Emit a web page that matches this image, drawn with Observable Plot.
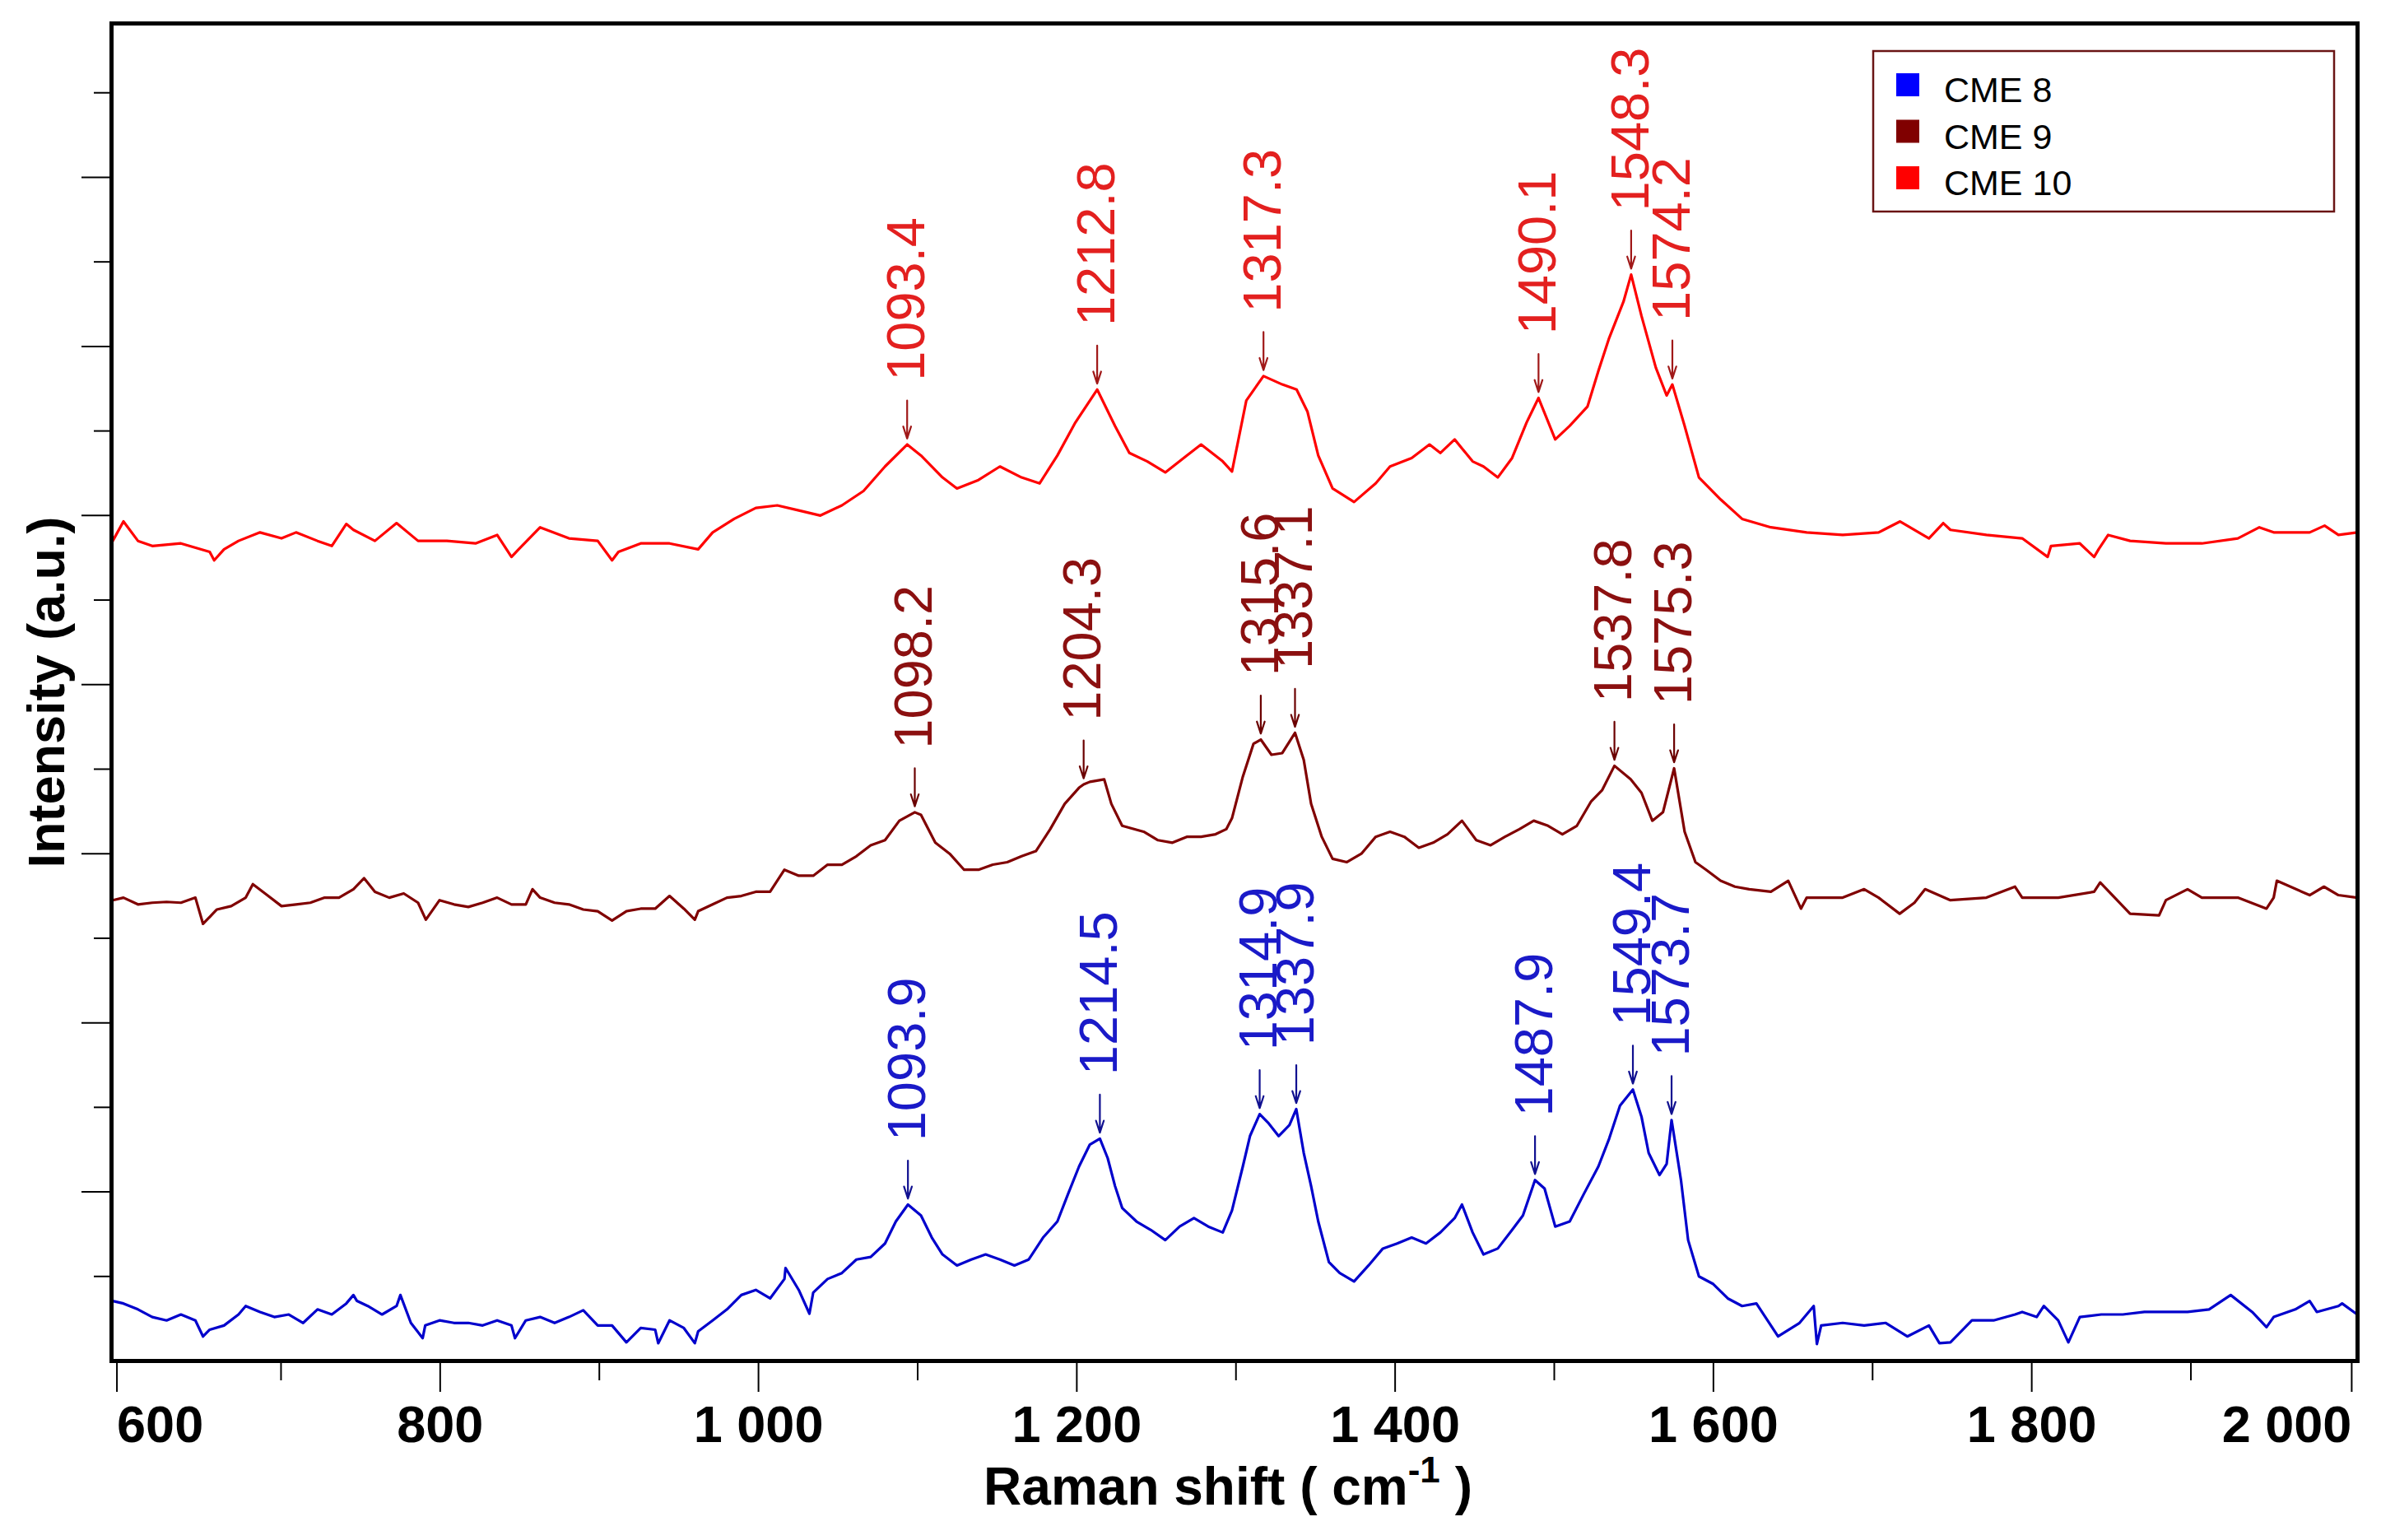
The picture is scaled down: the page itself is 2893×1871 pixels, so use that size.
<!DOCTYPE html>
<html>
<head>
<meta charset="utf-8">
<script src="https://cdn.jsdelivr.net/npm/d3@7"></script>
<script src="https://cdn.jsdelivr.net/npm/@observablehq/plot@0.6"></script>
<style>
  body { margin: 0; background: #fff; }
  #chart { width: 2893px; height: 1871px; }
</style>
</head>
<body>
<div id="chart"></div>
<script>
// Raman spectra: [shift (cm-1), intensity (a.u., tick = 1)]
const cme10 = [[594.3,9.70],[601,9.93],[610.1,9.70],[619.1,9.64],[637.1,9.67],[655.2,9.57],[658,9.47],[664.2,9.60],[673.3,9.70],[686.8,9.80],[700.3,9.73],[709.4,9.80],[722.9,9.70],[731.9,9.64],[741,9.90],[745.5,9.83],[759,9.70],[772.6,9.91],[786.1,9.70],[804.2,9.70],[822.2,9.67],[835.8,9.77],[844.8,9.51],[849.3,9.60],[862.8,9.86],[880.9,9.73],[899,9.70],[908,9.47],[912,9.57],[926,9.67],[944.1,9.67],[962.1,9.60],[971.2,9.80],[984.7,9.96],[998.3,10.09],[1011.8,10.12],[1025.3,10.06],[1038.9,10.00],[1052.4,10.12],[1066,10.29],[1079.5,10.58],[1093.4,10.84],[1102.1,10.71],[1115.6,10.45],[1124.7,10.32],[1138.2,10.42],[1151.7,10.58],[1165.3,10.45],[1176.6,10.38],[1187.8,10.71],[1199.1,11.10],[1212.8,11.49],[1224,11.06],[1233,10.74],[1244.3,10.64],[1255.6,10.51],[1269.1,10.71],[1278.1,10.84],[1291.7,10.64],[1297.5,10.52],[1306.5,11.36],[1317.3,11.65],[1329.1,11.55],[1338.1,11.49],[1344.9,11.23],[1351.7,10.71],[1360.7,10.32],[1374.2,10.16],[1387.8,10.38],[1396.8,10.58],[1410.4,10.68],[1421.6,10.84],[1428.4,10.74],[1437.4,10.90],[1448.7,10.64],[1455.5,10.58],[1464.5,10.45],[1473.5,10.68],[1482.6,11.10],[1490.1,11.39],[1500.6,10.90],[1509.7,11.06],[1520.9,11.29],[1527.7,11.71],[1534.5,12.10],[1543.5,12.53],[1548.3,12.85],[1554.8,12.36],[1563.8,11.75],[1570.6,11.42],[1574.2,11.55],[1581.9,11.06],[1590.9,10.45],[1604.5,10.19],[1618,9.96],[1636.1,9.86],[1658.6,9.80],[1681.2,9.77],[1703.8,9.80],[1717.3,9.93],[1735.4,9.73],[1744.4,9.91],[1748.9,9.83],[1771.5,9.77],[1794,9.73],[1810,9.51],[1812.1,9.64],[1830.2,9.67],[1839.2,9.51],[1842,9.60],[1848,9.77],[1861.8,9.70],[1884.3,9.67],[1906.9,9.67],[1929.5,9.73],[1943,9.86],[1952,9.80],[1974.6,9.80],[1984,9.88],[1992.7,9.77],[2004.5,9.80]];

const cme9 = [[594.3,5.45],[601,5.48],[610.1,5.40],[619.1,5.42],[628.1,5.43],[637.1,5.42],[646.2,5.48],[651,5.17],[659.7,5.34],[668.7,5.38],[677.8,5.48],[682.3,5.64],[691.3,5.51],[700.3,5.38],[709.4,5.40],[718.4,5.42],[727.4,5.48],[736.4,5.48],[745.5,5.58],[752.2,5.71],[759,5.55],[768,5.48],[777.1,5.53],[786.1,5.42],[791,5.22],[799.6,5.45],[808.7,5.40],[817.7,5.37],[826.7,5.42],[835.8,5.48],[844.8,5.40],[853.8,5.40],[858,5.58],[862.8,5.48],[871.9,5.42],[880.9,5.40],[889.9,5.34],[899,5.32],[908,5.21],[917,5.32],[926,5.35],[935.1,5.35],[944.1,5.50],[953.1,5.35],[960,5.22],[962.1,5.32],[971.2,5.40],[980.2,5.48],[989.2,5.50],[998.3,5.55],[1007.3,5.55],[1016.3,5.81],[1025.3,5.74],[1034.4,5.74],[1043.4,5.87],[1052.4,5.87],[1061.5,5.97],[1070.5,6.10],[1079.5,6.16],[1088.5,6.39],[1098.2,6.49],[1102.1,6.46],[1111.1,6.13],[1120.1,6.00],[1129.2,5.81],[1138.2,5.81],[1147.2,5.87],[1156.3,5.90],[1165.3,5.97],[1174.3,6.03],[1183.3,6.29],[1192.4,6.59],[1201.4,6.78],[1204.3,6.82],[1208.2,6.85],[1217.2,6.88],[1221.7,6.59],[1228.5,6.33],[1242,6.26],[1251,6.16],[1260.1,6.13],[1269.1,6.20],[1278.1,6.20],[1287.2,6.23],[1293.9,6.29],[1297.5,6.42],[1304.3,6.91],[1311,7.30],[1315.6,7.35],[1322.3,7.17],[1329.1,7.19],[1337.1,7.43],[1342.6,7.11],[1347.2,6.59],[1353.9,6.20],[1360.7,5.94],[1369.7,5.90],[1378.8,6.00],[1387.8,6.20],[1396.8,6.26],[1405.8,6.20],[1414.9,6.07],[1423.9,6.13],[1432.9,6.23],[1442,6.39],[1451,6.16],[1460,6.10],[1469,6.20],[1478.1,6.29],[1487.1,6.39],[1496.1,6.33],[1505.1,6.23],[1514.2,6.33],[1523.2,6.62],[1530,6.75],[1537.8,7.04],[1548,6.88],[1554.8,6.72],[1561.6,6.39],[1568.3,6.49],[1575.3,7.01],[1581.9,6.26],[1588.7,5.90],[1595.4,5.81],[1604.5,5.68],[1613.5,5.61],[1622.5,5.58],[1636.1,5.55],[1647,5.68],[1655,5.35],[1658.6,5.48],[1681.2,5.48],[1694.7,5.58],[1703.8,5.48],[1717,5.29],[1726.3,5.42],[1733,5.58],[1748.9,5.45],[1771.5,5.48],[1789.5,5.61],[1794,5.48],[1816.6,5.48],[1839.2,5.55],[1843,5.66],[1861.8,5.29],[1880,5.27],[1884.3,5.45],[1897.9,5.58],[1906.9,5.48],[1929.5,5.48],[1947.5,5.35],[1952,5.48],[1954,5.68],[1974.6,5.51],[1983.6,5.61],[1992.7,5.51],[2004.5,5.48]];

const cme8 = [[594.3,0.71],[601,0.68],[610.1,0.61],[619.1,0.52],[628.1,0.48],[637.1,0.55],[646.2,0.48],[651,0.29],[655.2,0.37],[664.2,0.42],[673.3,0.55],[677.8,0.65],[686.8,0.58],[695.8,0.52],[704.9,0.55],[713.9,0.45],[722.9,0.61],[731.9,0.55],[741,0.68],[745.5,0.78],[747.7,0.71],[754.5,0.65],[763.5,0.55],[772.6,0.65],[775,0.78],[781.6,0.45],[789,0.27],[790.6,0.42],[799.6,0.48],[808.7,0.45],[817.7,0.45],[826.7,0.42],[835.8,0.48],[844.8,0.42],[847,0.27],[853.8,0.48],[862.8,0.52],[871.9,0.45],[880.9,0.52],[889.9,0.60],[899,0.42],[908,0.42],[917,0.22],[926,0.39],[935.1,0.37],[937,0.21],[944.1,0.48],[953.1,0.39],[960,0.21],[962.1,0.35],[971.2,0.48],[980.2,0.61],[989.2,0.78],[998.3,0.84],[1007.3,0.74],[1016.3,0.97],[1017,1.10],[1025.3,0.84],[1032,0.56],[1034.4,0.81],[1043.4,0.97],[1052.4,1.04],[1061.5,1.20],[1070.5,1.23],[1079.5,1.39],[1086.3,1.65],[1093.9,1.85],[1102.1,1.72],[1108.9,1.46],[1115.6,1.26],[1124.7,1.13],[1133.7,1.20],[1142.7,1.26],[1151.7,1.20],[1160.8,1.13],[1169.8,1.20],[1178.8,1.46],[1187.8,1.65],[1194.6,1.98],[1201.4,2.30],[1208.2,2.56],[1214.5,2.63],[1219.4,2.40],[1224,2.07],[1228.5,1.81],[1237.5,1.65],[1246.5,1.55],[1255.6,1.43],[1264.6,1.59],[1273.6,1.69],[1282.6,1.59],[1291.7,1.52],[1297.5,1.78],[1304.3,2.30],[1308.8,2.66],[1314.9,2.92],[1320.1,2.82],[1326.8,2.66],[1333.6,2.79],[1337.9,2.98],[1342.6,2.46],[1347.2,2.07],[1351.7,1.65],[1358.4,1.17],[1365.2,1.04],[1374.2,0.94],[1383.3,1.13],[1392.3,1.33],[1401.3,1.39],[1410.4,1.46],[1419.4,1.39],[1428.4,1.52],[1437.4,1.69],[1442,1.85],[1448.7,1.52],[1455.5,1.26],[1464.5,1.33],[1473.5,1.55],[1480.3,1.72],[1487.9,2.14],[1493.9,2.04],[1500.6,1.59],[1509.7,1.65],[1518.7,1.98],[1527.7,2.30],[1534.5,2.63],[1541.3,3.02],[1549.4,3.21],[1554.8,2.89],[1559.3,2.46],[1566.1,2.20],[1570.6,2.33],[1573.7,2.85],[1579.6,2.14],[1584.1,1.43],[1590.9,1.00],[1599.9,0.91],[1609,0.74],[1618,0.65],[1627,0.68],[1640.6,0.29],[1654.1,0.45],[1663,0.65],[1665,0.20],[1667.7,0.42],[1681.2,0.45],[1694.7,0.42],[1708.3,0.45],[1721.8,0.29],[1735.4,0.42],[1742,0.21],[1748.9,0.22],[1762.4,0.48],[1776,0.48],[1789.5,0.55],[1794,0.58],[1803.1,0.52],[1807.6,0.65],[1816.6,0.48],[1823,0.22],[1830.2,0.52],[1843.7,0.55],[1857.2,0.55],[1870.8,0.58],[1884.3,0.58],[1897.9,0.58],[1911.4,0.61],[1925,0.78],[1938.5,0.58],[1947.5,0.40],[1952,0.52],[1965.6,0.61],[1974.6,0.71],[1979.1,0.58],[1992.7,0.65],[1995,0.68],[2004.5,0.55]];

// peak annotations: [shift, intensity at the peak]
const peaks10 = [[1093.4,10.84],[1212.8,11.49],[1317.3,11.65],[1490.1,11.39],[1548.3,12.85],[1574.2,11.55]];
const peaks9 = [[1098.2,6.49],[1204.3,6.82],[1315.6,7.35],[1337.1,7.43],[1537.8,7.04],[1575.3,7.01]];
const peaks8 = [[1093.9,1.85],[1214.5,2.63],[1314.9,2.92],[1337.9,2.98],[1487.9,2.14],[1549.4,3.21],[1573.7,2.85]];

const names = ["CME 8", "CME 9", "CME 10"];
const swatch = ["#0000ff", "#800000", "#ff0000"];
const xTicks = [600, 800, 1000, 1200, 1400, 1600, 1800, 2000];
const xMinor = [700, 900, 1100, 1300, 1500, 1700, 1900];
const yMajor = [2, 4, 6, 8, 10, 12, 14];
const yMinor = [1, 3, 5, 7, 9, 11, 13, 15];

const font = "'Liberation Sans', Arial, sans-serif";
const fmt = d => d3.format(",")(d).replace(/,/g, " ");
const px = d => d[0], py = d => d[1];

function peakMarks(peaks, textColor, arrowColor) {
  return [
    Plot.arrow(peaks, {x1: px, x2: px, y1: d => d[1] + 0.52, y2: d => d[1] + 0.07,
      stroke: arrowColor, strokeWidth: 2.2, headLength: 16, headAngle: 36}),
    Plot.text(peaks, {x: px, y: d => d[1] + 0.07, dy: -70, rotate: -90, textAnchor: "start",
      text: d => d[0].toFixed(1), fill: textColor, fontSize: 65})
  ];
}

const axisStyle = {label: null, fontSize: 63, fontWeight: "bold", strokeWidth: 2};

const chart = Plot.plot({
  width: 2893,
  height: 1871,
  marginLeft: 135,
  marginRight: 29,
  marginTop: 28,
  marginBottom: 218,
  style: {fontFamily: font, background: "white", color: "black"},
  x: {domain: [593.5, 2004.7]},
  y: {domain: [0, 15.82]},
  marks: [
    Plot.line(cme10, {x: px, y: py, stroke: "#ff0000", strokeWidth: 3.2}),
    Plot.line(cme9, {x: px, y: py, stroke: "#800000", strokeWidth: 3.2}),
    Plot.line(cme8, {x: px, y: py, stroke: "#0000cc", strokeWidth: 3.2}),
    ...peakMarks(peaks10, "#e3201f", "#a01818"),
    ...peakMarks(peaks9, "#8b1010", "#6b0000"),
    ...peakMarks(peaks8, "#1a1ac8", "#101090"),
    Plot.axisX({...axisStyle, ticks: xTicks.slice(1, -1), tickSize: 38, tickPadding: 16, tickFormat: fmt}),
    Plot.axisX({...axisStyle, ticks: [xTicks[0]], tickSize: 38, tickPadding: 16, tickFormat: fmt, textAnchor: "start", dx: -6}),
    Plot.axisX({...axisStyle, ticks: [xTicks[xTicks.length - 1]], tickSize: 38, tickPadding: 16, tickFormat: fmt, textAnchor: "end", dx: 2}),
    Plot.axisX({...axisStyle, ticks: xMinor, tickSize: 24, tickFormat: () => ""}),
    Plot.axisY({...axisStyle, ticks: yMajor, tickSize: 36, tickFormat: () => ""}),
    Plot.axisY({...axisStyle, ticks: yMinor, tickSize: 21, tickFormat: () => ""}),
    Plot.frame({stroke: "black", strokeWidth: 5}),
    Plot.text(["Intensity (a.u.)"], {text: d => d, frameAnchor: "left", textAnchor: "middle", rotate: -90, dx: -78,
      fontSize: 63, fontWeight: "bold", fill: "black"})
  ]
});

const svg = d3.select(chart);

// x-axis title with superscript
const xl = svg.append("text")
  .attr("x", 1492).attr("y", 1828)
  .attr("text-anchor", "middle")
  .attr("font-family", font).attr("font-weight", "bold").attr("font-size", 64)
  .attr("fill", "black");
xl.append("tspan").text("Raman shift ( cm");
xl.append("tspan").attr("dy", -27).attr("font-size", 44).text("-1");
xl.append("tspan").attr("dy", 27).text(" )");

// legend box in the top-right corner
const lg = svg.append("g").attr("font-family", font).attr("text-anchor", "start");
lg.append("rect")
  .attr("x", 2276).attr("y", 62).attr("width", 560).attr("height", 195)
  .attr("fill", "white").attr("stroke", "#6a1414").attr("stroke-width", 2.5);
names.forEach((n, i) => {
  const top = 89 + i * 56.5;
  lg.append("rect").attr("x", 2304).attr("y", top).attr("width", 28).attr("height", 28).attr("fill", swatch[i]);
  lg.append("text").attr("x", 2362).attr("y", top + 35).attr("font-size", 43)
    .attr("text-anchor", "start").attr("fill", "black").text(n);
});

d3.select("#chart").append(() => chart);
</script>
</body>
</html>
